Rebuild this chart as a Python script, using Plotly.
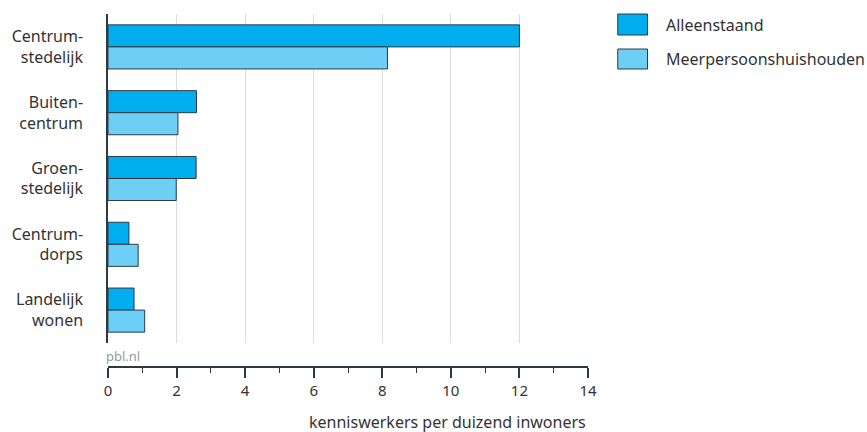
import plotly.graph_objects as go

categories = ["Centrum-<br>stedelijk", "Buiten-<br>centrum", "Groen-<br>stedelijk", "Centrum-<br>dorps", "Landelijk<br>wonen"]
alleenstaand = [12.0, 2.58, 2.57, 0.61, 0.76]
meerpersoons = [8.15, 2.04, 1.99, 0.88, 1.07]
series_names = ["Alleenstaand", "Meerpersoonshuishouden"]
x_ticks = [0, 2, 4, 6, 8, 10, 12, 14]

col_a = "#00AEEF"
col_m = "#6DCFF6"
edge = "#2f3a40"
txt = "#333333"
FONT = "Noto Sans"

fig = go.Figure()
fig.add_trace(go.Bar(y=categories, x=alleenstaand, orientation="h", name=series_names[0],
                     marker=dict(color=col_a, line=dict(color=edge, width=1)), showlegend=False))
fig.add_trace(go.Bar(y=categories, x=meerpersoons, orientation="h", name=series_names[1],
                     marker=dict(color=col_m, line=dict(color=edge, width=1)), showlegend=False))

W, H = 867, 432
ml, mr, mt, mb = 104, 279, 14, 65
pw = W - ml - mr
ph = H - mt - mb

def px_x(px):
    return (px - ml) / pw

def px_y(py):
    return (H - mb - py) / ph

ydom0 = px_y(343)

fig.update_layout(
    width=W, height=H,
    margin=dict(l=ml, r=mr, t=mt, b=mb, pad=0),
    paper_bgcolor="white", plot_bgcolor="white",
    font=dict(family=FONT, size=16, color=txt),
    barmode="group", bargap=0.33, bargroupgap=0,
    xaxis=dict(range=[0, 14], tickvals=x_ticks, ticktext=[str(v) for v in x_ticks],
               anchor="free", position=0,
               showline=True, linecolor=edge, linewidth=1.5,
               ticks="outside", ticklen=10, tickwidth=1.5, tickcolor=edge,
               minor=dict(dtick=1, tick0=0, ticks="outside", ticklen=5, tickwidth=1, tickcolor=edge, showgrid=False),
               showgrid=True, gridcolor="#dcdcdc", gridwidth=1.2,
               zeroline=False, tickfont=dict(size=15, color=txt), fixedrange=True),
    yaxis=dict(domain=[ydom0, 1], autorange="reversed", showline=True, linecolor=edge, linewidth=1.5,
               ticks="", showgrid=False, zeroline=False, ticklabelstandoff=20,
               tickfont=dict(size=16, color=txt), fixedrange=True),
)

fig.add_annotation(text="kenniswerkers per duizend inwoners", xref="paper", yref="paper",
                   x=1.0, y=px_y(422), xanchor="right", yanchor="middle", showarrow=False,
                   font=dict(size=16, color=txt))
fig.add_annotation(text="pbl.nl", xref="paper", yref="paper",
                   x=0, y=px_y(356), xanchor="left", yanchor="middle", showarrow=False, xshift=-4,
                   font=dict(size=13, color="#999999"))

legend_rows = [(series_names[0], col_a, 14, 35), (series_names[1], col_m, 49, 69)]
for name, col, y0, y1 in legend_rows:
    fig.add_shape(type="rect", xref="paper", yref="paper",
                  x0=px_x(618), x1=px_x(648), y0=px_y(y1), y1=px_y(y0),
                  fillcolor=col, line=dict(color=edge, width=1))
    fig.add_annotation(text=name, xref="paper", yref="paper", x=px_x(665), y=px_y((y0 + y1) / 2),
                       xanchor="left", yanchor="middle", showarrow=False,
                       font=dict(size=16, color=txt))

fig.write_html("out.html", config={"displayModeBar": False},
               post_script="document.body.style.margin='0px';")
